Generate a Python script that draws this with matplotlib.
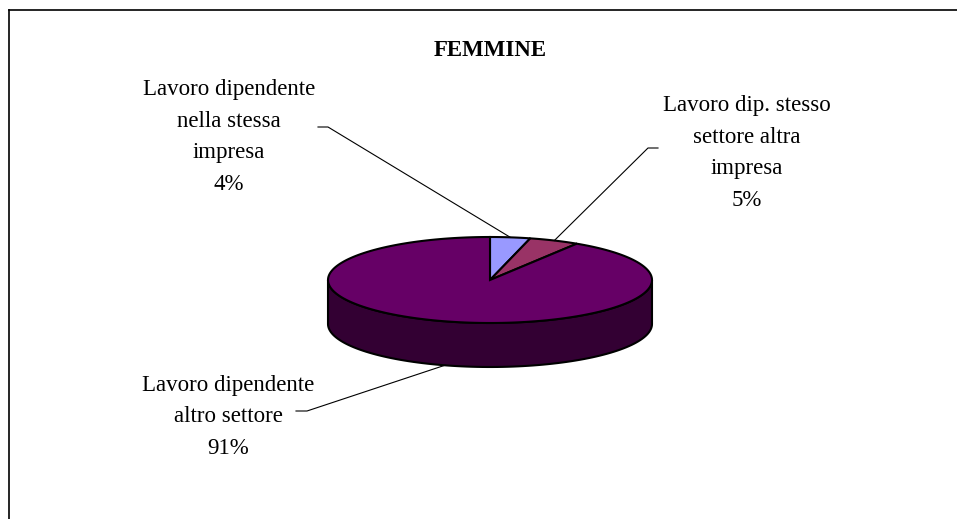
import matplotlib.pyplot as plt
import numpy as np
from matplotlib.patches import Polygon

plt.rcParams['font.family'] = ['Liberation Serif', 'DejaVu Serif']

title = 'FEMMINE'
labels = ['Lavoro dipendente\nnella stessa\nimpresa',
          'Lavoro dip. stesso\nsettore altra\nimpresa',
          'Lavoro dipendente\naltro settore']
values = [4, 5, 91]
colors = ['#9999FF', '#993366', '#660066']
side_colors = ['#4C4C80', '#4C1933', '#330033']

# label positions (centre of text block) and elbow of leader line, in pixels
label_pos = [(229, 137), (747, 153), (228, 417)]
elbows = [((318, 127), (328, 127)), ((658, 148), (648, 148)), ((296, 411), (307, 411))]

cx, cy, rx, ry, depth = 490, 280, 162, 43, 44

fig = plt.figure(figsize=(9.57, 5.19), dpi=100)
ax = fig.add_axes([0, 0, 1, 1])
ax.set_xlim(0, 957)
ax.set_ylim(519, 0)
ax.axis('off')

def pt(theta, dy=0):
    t = np.radians(theta)
    return cx + rx * np.cos(t), cy - ry * np.sin(t) + dy

fracs = np.array(values, dtype=float) / sum(values)
starts = 90 - 360 * np.concatenate([[0], np.cumsum(fracs)[:-1]])
ends = starts - 360 * fracs

# side walls (front half only)
for s, e, sc in zip(starts, ends, side_colors):
    a0, a1 = e, s
    # visible front range is angles in (-180, 0) modulo 360
    for off in (-360, 0, 360):
        lo = max(a0, -180 + off)
        hi = min(a1, 0 + off)
        if hi > lo:
            th = np.linspace(lo, hi, 100)
            top = [pt(t) for t in th]
            bot = [pt(t, depth) for t in th[::-1]]
            ax.add_patch(Polygon(top + bot, closed=True, facecolor=sc,
                                 edgecolor='black', linewidth=1.5, zorder=1))

# top wedges
for s, e, c in zip(starts, ends, colors):
    th = np.linspace(s, e, 200)
    poly = [(cx, cy)] + [pt(t) for t in th]
    ax.add_patch(Polygon(poly, closed=True, facecolor=c, edgecolor='black',
                         linewidth=1.5, zorder=2))

# labels and leader lines
for i, (lab, v) in enumerate(zip(labels, values)):
    mid = (starts[i] + ends[i]) / 2
    x, y = pt(mid)
    if np.sin(np.radians(mid)) < 0:
        y += depth
    (ex, ey), (fx, fy) = elbows[i]
    ax.plot([ex, fx, x], [ey, fy, y], color='black', linewidth=0.8, zorder=3)
    ax.text(label_pos[i][0], label_pos[i][1], f'{lab}\n{v}%', ha='center',
            va='center', fontsize=16.5, linespacing=1.68, zorder=4)

ax.text(490, 51, title, ha='center', va='center', fontsize=16.5, fontweight='bold')

# chart area border
ax.plot([9, 957], [10, 10], color='black', linewidth=1.2)
ax.plot([9, 9], [10, 519], color='black', linewidth=1.2)

fig.savefig('out.png', dpi=100)
